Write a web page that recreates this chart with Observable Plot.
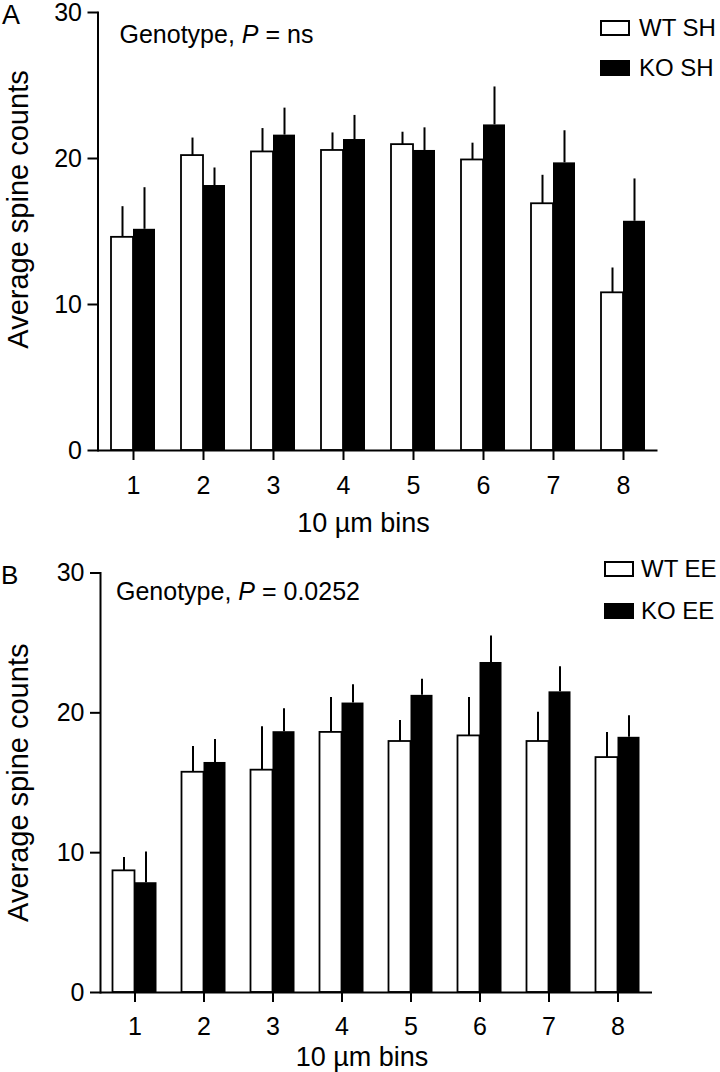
<!DOCTYPE html>
<html><head><meta charset="utf-8">
<script src="https://cdn.jsdelivr.net/npm/d3@7"></script>
<script src="https://cdn.jsdelivr.net/npm/@observablehq/plot@0.6"></script>
<style>
body{margin:0;background:#fff;font-family:"Liberation Sans",Arial,sans-serif;}
#root{position:relative;width:720px;height:1072px;overflow:hidden;background:#fff}
.panel{position:absolute;left:0;width:720px}
.ov{position:absolute;line-height:1;white-space:nowrap;color:#000}
.box{position:absolute;box-sizing:border-box;border:2px solid #000;width:30px;height:16px;background:#fff}
.box.dark{background:#000}
</style></head><body><div id="root"></div>
<script>
// ---- data ----
const bins = [1, 2, 3, 4, 5, 6, 7, 8];
const yTicks = [0, 10, 20, 30];
const xLabel = "10 µm bins";
const yLabel = "Average spine counts";

// Panel A (standard housing)
const wtSH    = [14.6, 20.2, 20.45, 20.55, 20.95, 19.9, 16.9, 10.8];
const wtSHerr = [2.1, 1.2, 1.6, 1.2, 0.85, 1.15, 1.95, 1.7];
const koSH    = [15.15, 18.15, 21.6, 21.3, 20.55, 22.3, 19.7, 15.7];
const koSHerr = [2.85, 1.2, 1.85, 1.65, 1.55, 2.6, 2.2, 2.9];

// Panel B (enriched environment)
const wtEE    = [8.7, 15.75, 15.9, 18.6, 17.95, 18.35, 17.95, 16.8];
const wtEEerr = [0.95, 1.85, 3.1, 2.5, 1.5, 2.75, 2.1, 1.8];
const koEE    = [7.85, 16.45, 18.65, 20.7, 21.25, 23.6, 21.5, 18.25];
const koEEerr = [2.2, 1.65, 1.65, 1.3, 1.15, 1.9, 1.8, 1.55];

const root = document.getElementById("root");
const FONT = '"Liberation Sans", Arial, Helvetica, sans-serif';

function drawPanel(cfg) {
  const rows = bins.map((b, i) => ({
    bin: b,
    wt: cfg.wt[i], wtHi: cfg.wt[i] + cfg.wtErr[i],
    ko: cfg.ko[i], koHi: cfg.ko[i] + cfg.koErr[i]
  }));
  const bw = (720 - cfg.ml - cfg.mr) / bins.length;
  const barW = 22;
  const outer = bw / 2 - barW;
  const svg = Plot.plot({
    width: 720, height: cfg.h,
    marginTop: cfg.mt, marginBottom: cfg.mb, marginLeft: cfg.ml, marginRight: cfg.mr,
    style: {fontFamily: FONT, fontSize: "25px", color: "#000", background: "transparent", overflow: "visible"},
    x: {type: "band", domain: bins, padding: 0},
    y: {domain: [0, 30]},
    marks: [
      Plot.barY(rows, {x: "bin", y: "wt", fill: "white", stroke: "black", strokeWidth: 1.8, insetLeft: outer, insetRight: bw / 2}),
      Plot.barY(rows, {x: "bin", y: "ko", fill: "black", insetLeft: bw / 2, insetRight: outer}),
      Plot.ruleX(rows, {x: "bin", y1: "wt", y2: "wtHi", dx: -barW / 2, strokeWidth: 2}),
      Plot.ruleX(rows, {x: "bin", y1: "ko", y2: "koHi", dx: barW / 2, strokeWidth: 2}),
      Plot.ruleY([0], {strokeWidth: 2}),
      Plot.frame({anchor: "left", strokeWidth: 2}),
      Plot.axisY({ticks: yTicks, tickSize: 10, tickPadding: 6, strokeWidth: 2, label: null, fontSize: 25}),
      Plot.axisX({tickSize: 10, tickPadding: cfg.xtp, strokeWidth: 2, label: null, fontSize: 25}),
      Plot.text([xLabel], {text: d => d, frameAnchor: "bottom", textAnchor: "middle", lineAnchor: "top", dy: cfg.xlDy, dx: -14.5, fontSize: 27}),
      Plot.text([yLabel], {text: d => d, frameAnchor: "left", textAnchor: "middle", lineAnchor: "middle", rotate: -90, dx: 18 - cfg.ml, dy: cfg.ylDy, fontSize: 29})
    ]
  });
  const wrap = document.createElement("div");
  wrap.className = "panel";
  wrap.style.top = cfg.top + "px";
  wrap.style.height = cfg.h + "px";
  wrap.appendChild(svg);
  root.appendChild(wrap);
}

function overlay(html, left, top, size, cls) {
  const d = document.createElement("div");
  d.className = cls || "ov";
  d.style.left = left + "px";
  d.style.top = top + "px";
  if (size) d.style.fontSize = size + "px";
  d.innerHTML = html;
  root.appendChild(d);
  return d;
}

drawPanel({top: 0, h: 540, mt: 12, mb: 90, ml: 97.5, mr: 62.5, xtp: 16, xlDy: 62, ylDy: -22,
  wt: wtSH, wtErr: wtSHerr, ko: koSH, koErr: koSHerr});
drawPanel({top: 540, h: 532, mt: 32.5, mb: 80, ml: 100, mr: 68, xtp: 15, xlDy: 54, ylDy: 0,
  wt: wtEE, wtErr: wtEEerr, ko: koEE, koErr: koEEerr});

// panel letters
overlay("A", 2, 2, 27);
overlay("B", 1, 561.5, 26);
// annotations
overlay('Genotype, <i>P</i> = ns', 119.5, 21.5, 25);
overlay('Genotype, <i>P</i> = 0.0252', 116, 578.8, 25);
// legends
overlay("", 600, 20, 0, "box");
overlay("", 600, 60, 0, "box dark");
overlay("WT SH", 639, 16.2, 24);
overlay("KO SH", 639, 56.2, 24);
overlay("", 604, 561, 0, "box");
overlay("", 604, 603, 0, "box dark");
overlay("WT EE", 641, 557.2, 24);
overlay("KO EE", 641, 599.2, 24);
</script></body></html>
